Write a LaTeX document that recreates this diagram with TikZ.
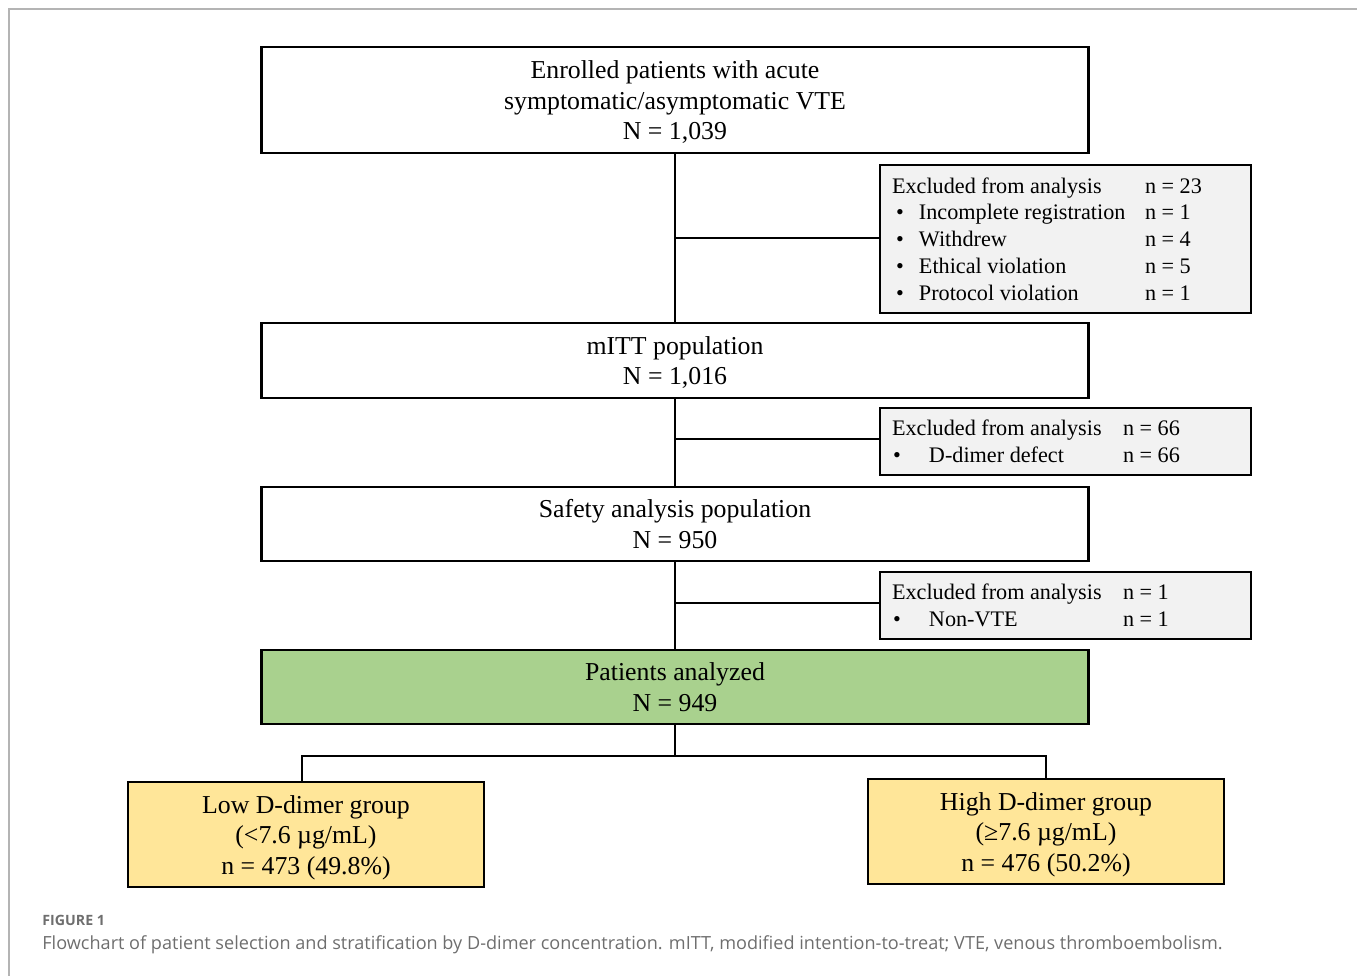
\documentclass[tikz,border=0pt]{standalone}
\usepackage{fontspec}
\setmainfont{Liberation Serif}
\newfontfamily\capfont{Open Sans}
\newlength\pxu \setlength\pxu{0.5pt}
\definecolor{exgray}{HTML}{F2F2F2}
\definecolor{anagreen}{HTML}{A9D18E}
\definecolor{grpyellow}{HTML}{FFE699}
\definecolor{framegray}{HTML}{B4B4B4}
\definecolor{capgray}{HTML}{6E6E6E}
\newcommand\exhead[2]{\makebox[#1][l]{Excluded from analysis}#2}
\newcommand\exitem[5]{\hspace*{#1}\makebox[#2][l]{\textbullet}\makebox[#3][l]{#4}#5}
\newcommand\lines[1]{\raisebox{-1.5pt}[\height][\depth]{\begin{tabular}{@{}c@{}}#1\end{tabular}}}
\begin{document}
\begin{tikzpicture}[x=0.5pt,y=-0.5pt,
  mainbox/.style={draw, line width=1.3pt, minimum width=827\pxu, inner sep=0pt,
    font=\fontsize{12.9}{15.25}\selectfont},
  exbox/.style={draw, line width=1.3pt, fill=exgray, minimum width=371\pxu, inner sep=0pt,
    font=\fontsize{11.1}{13.4}\selectfont},
  grpbox/.style={draw, line width=1.3pt, fill=grpyellow, minimum width=356\pxu, minimum height=105\pxu,
    inner sep=0pt, font=\fontsize{12.9}{15.25}\selectfont},
  conn/.style={line width=1pt},
  capstyle/.style={anchor=base west, inner sep=0pt, text=capgray}]
\useasboundingbox (0,0) rectangle (1357,976);
\draw[framegray, line width=1.5\pxu] (9,976) -- (9,9) -- (1357,9);

\node[mainbox, minimum height=106\pxu] (b1) at (675,100)
  {\lines{Enrolled patients with acute\\symptomatic/asymptomatic VTE\\N = 1,039}};
\node[mainbox, minimum height=75\pxu] (b2) at (675,360.5) {\lines{mITT population\\N = 1,016}};
\node[mainbox, minimum height=74\pxu] (b3) at (675,524) {\lines{Safety analysis population\\N = 950}};
\node[mainbox, fill=anagreen, minimum height=74\pxu] (b4) at (675,687) {\lines{Patients analyzed\\N = 949}};

\node[exbox, minimum height=148\pxu] (e1) at (1065.5,239) {\parbox{347\pxu}{%
  \exhead{253\pxu}{n = 23}\\
  \exitem{4\pxu}{23\pxu}{226\pxu}{Incomplete registration}{n = 1}\\
  \exitem{4\pxu}{23\pxu}{226\pxu}{Withdrew}{n = 4}\\
  \exitem{4\pxu}{23\pxu}{226\pxu}{Ethical violation}{n = 5}\\
  \exitem{4\pxu}{23\pxu}{226\pxu}{Protocol violation}{n = 1}}};
\node[exbox, minimum height=67\pxu] (e2) at (1065.5,441.5) {\parbox{347\pxu}{%
  \exhead{231\pxu}{n = 66}\\
  \exitem{1\pxu}{36\pxu}{194\pxu}{D-dimer defect}{n = 66}}};
\node[exbox, minimum height=67\pxu] (e3) at (1065.5,605.5) {\parbox{347\pxu}{%
  \exhead{231\pxu}{n = 1}\\
  \exitem{1\pxu}{36\pxu}{194\pxu}{Non-VTE}{n = 1}}};

\node[grpbox] (lo) at (306,834.5) {\lines{Low D-dimer group\\(<7.6 µg/mL)\\n = 473 (49.8\%)}};
\node[grpbox] (hi) at (1046,831.5) {\lines{High D-dimer group\\(≥7.6 µg/mL)\\n = 476 (50.2\%)}};

\draw[conn] (b1.south) -- (b2.north);
\draw[conn] (b2.south) -- (b3.north);
\draw[conn] (b3.south) -- (b4.north);
\draw[conn] ([yshift=0.5pt]e1.west) -- ([yshift=0.5pt]e1.west -| b1.south);
\draw[conn] ([yshift=1.25pt]e2.west) -- ([yshift=1.25pt]e2.west -| b2.south);
\draw[conn] ([yshift=1.25pt]e3.west) -- ([yshift=1.25pt]e3.west -| b3.south);
\draw[conn] (b4.south) -- ++(0,31) coordinate (split);
\draw[conn] (split) -| ([xshift=-2pt]lo.north);
\draw[conn] (split) -| (hi.north);

\node[capstyle, font=\capfont\fontsize{7.1}{8}\selectfont\bfseries] (figlab) at (42,925) {FIGURE 1};
\node[capstyle, font=\capfont\fontsize{9.05}{10}\selectfont] (cap) at (42,949)
  {Flowchart of patient selection and stratification by D-dimer concentration. mITT, modified intention-to-treat; VTE, venous thromboembolism.};
\end{tikzpicture}
\end{document}
